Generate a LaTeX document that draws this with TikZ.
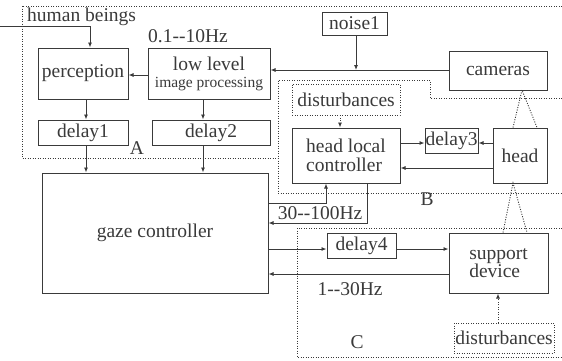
\documentclass[tikz,border=0pt]{standalone}
\usepackage{fontspec}
\setmainfont{Liberation Serif}
\usetikzlibrary{arrows.meta}
\definecolor{ink}{HTML}{3A3A3A}
\begin{document}
\begin{tikzpicture}[x=1pt,y=-1pt,
  every node/.style={text=ink, font=\fontsize{19.5}{16}\selectfont},
  blk/.style={draw=ink, line width=1pt, inner sep=1pt},
  dblk/.style={draw=ink, line width=0.9pt, dash pattern=on 1pt off 1.5pt, inner sep=1pt},
  lbl/.style={inner sep=0pt},
  arr/.style={draw=ink, line width=0.9pt, -{Latex[length=5pt,width=4pt]}},
  ln/.style={draw=ink, line width=0.9pt},
  dln/.style={draw=ink, line width=0.9pt, dash pattern=on 1pt off 1.5pt},
  darr/.style={dln, -{Latex[length=5pt,width=4pt]}}
]
\useasboundingbox[fill=white] (0,0) rectangle (562,360);

% region borders
\draw[dln] (562,6) -- (22,6) -- (22,158) -- (278,158);
\draw[dln] (562,98) -- (430,98) -- (430,80) -- (278,80) -- (278,193) -- (562,193);
\draw[dln] (562,228) -- (297,228) -- (297,357) -- (562,357);

% blocks
\node[blk, minimum width=90pt, minimum height=51pt] (perc) at (83,73.5) {perception};
\node[blk, minimum width=122pt, minimum height=51pt, align=center,
  font=\fontsize{19.5}{17}\selectfont] (low) at (209,73.5)
  {low level\\{\fontsize{15.5}{17}\selectfont image processing}};
\node[blk, minimum width=90pt, minimum height=25pt] (d1) at (83,132.5) {delay1};
\node[blk, minimum width=118pt, minimum height=25pt] (d2) at (211,132.5) {delay2};
\node[blk, minimum width=226pt, minimum height=120pt] (gaze) at (155,233) {gaze controller};
\node[blk, minimum width=65pt, minimum height=23pt] (noise) at (354.5,23.5) {noise1};
\node[blk, minimum width=98pt, minimum height=39pt] (cam) at (498,70.5) {cameras};
\node[dblk, minimum width=108pt, minimum height=31pt] (distB) at (346,99.5) {disturbances};
\node[blk, minimum width=108pt, minimum height=55pt, align=left,
  font=\fontsize{19.5}{18.5}\selectfont] (hlc) at (346,155.5)
  {head local\\controller};
\node[blk, minimum width=53pt, minimum height=25pt, inner sep=0pt] (d3) at (451.5,140.5) {delay3};
\node[blk, minimum width=54pt, minimum height=55pt] (head) at (520,155.5) {head};
\node[blk, minimum width=69pt, minimum height=25pt] (d4) at (361.5,245.5) {delay4};
\node[blk, minimum width=99pt, minimum height=60pt, align=left,
  font=\fontsize{19.5}{15}\selectfont] (sup) at (498.5,263) {support\\device};
\node[dblk, minimum width=100pt, minimum height=30pt, inner sep=0pt] (distC) at (504,338) {disturbances};

% labels
\node[lbl, anchor=base west] (hb) at (27,21) {human beings};
\node[lbl, anchor=base west] (f1) at (148,42) {0.1-{}-10Hz};
\node[lbl] (la) at (137,148) {A};
\node[lbl] (lb) at (427,199) {B};
\node[lbl] (lc) at (357,342) {C};
\node[lbl] (f2) at (320,213) {30-{}-100Hz};
\node[lbl] (f3) at (350,289) {1-{}-30Hz};

% coordinates
\coordinate (in) at (0,26);
\coordinate (n1) at (356,70);
\coordinate (ca) at (522,90);
\coordinate (hb2) at (513,183);

% connectors
\draw[arr] (in) -- (90,26) -- (perc.north -| 90,0);
\draw[arr] (low.west |- 0,75) -- (perc.east |- 0,75);
\draw[arr] (cam.west |- 0,70) -- (low.east |- 0,70);
\draw[arr] (noise.south -| n1) -- (n1);
\draw[arr] (perc.south -| 86,0) -- (d1.north -| 86,0);
\draw[arr] (d1.south -| 86,0) -- (gaze.north -| 86,0);
\draw[arr] (low.south -| 203,0) -- (d2.north -| 203,0);
\draw[arr] (d2.south -| 203,0) -- (gaze.north -| 203,0);
\draw[arr] (hlc.east |- 0,143) -- (d3.west |- 0,143);
\draw[arr] (head.west |- 0,143) -- (d3.east |- 0,143);
\draw[arr] (head.west |- 0,168) -- (hlc.east |- 0,168);
\draw[arr] (gaze.east |- 0,203) -- (326,203) -- (hlc.south -| 326,0);
\draw[arr] (hlc.south -| 367,0) -- (367,223) -- (gaze.east |- 0,223);
\draw[arr] (gaze.east |- 0,249) -- (d4.west |- 0,249);
\draw[arr] (d4.east |- 0,249) -- (sup.west |- 0,249);
\draw[arr] (sup.west |- 0,274) -- (gaze.east |- 0,274);
\draw[darr] (distB.south -| 340,0) -- (hlc.north -| 340,0);
\draw[darr] (distC.north -| 498,0) -- (sup.south -| 498,0);
\draw[dln] (head.north -| 513,0) -- (ca) -- (head.north -| 537,0);
\draw[dln] (sup.north -| 503,0) -- (hb2) -- (sup.north -| 527,0);
\end{tikzpicture}
\end{document}
